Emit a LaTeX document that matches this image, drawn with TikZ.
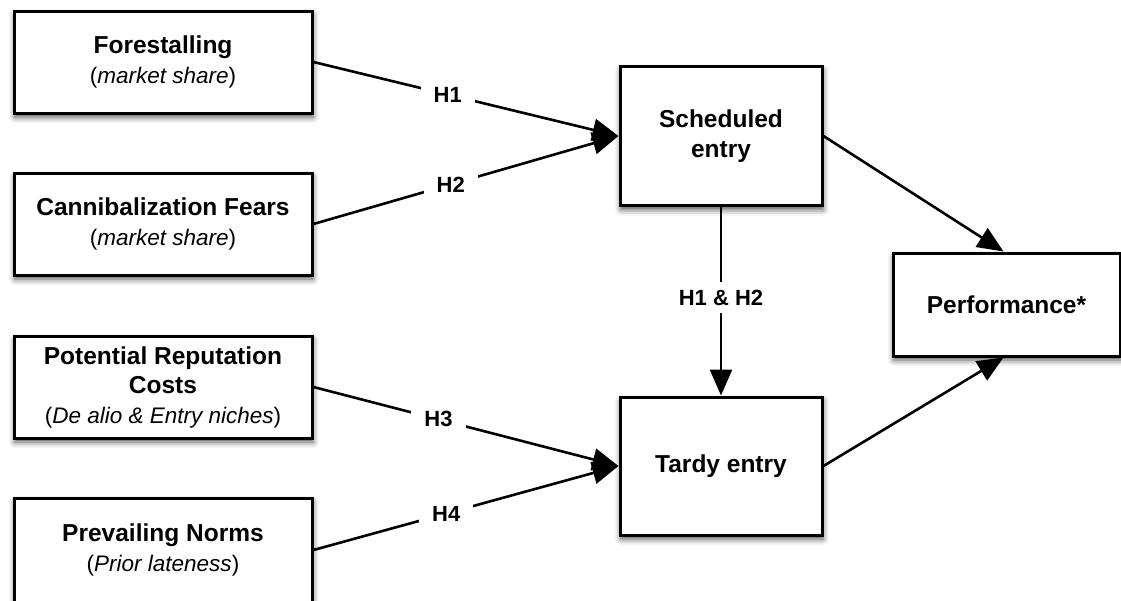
\documentclass[tikz,border=0pt]{standalone}
\usepackage{fontspec}
\setmainfont{Liberation Sans}
\usetikzlibrary{arrows.meta,shadows.blur}
\newcommand\myboxfont{\fontsize{24.5}{29.5}\selectfont\bfseries}
\newcommand\mysubfont{\fontsize{22.5}{29.5}\selectfont\mdseries}
\newcommand\mylabfont{\fontsize{22}{26}\selectfont\bfseries}
\begin{document}
\begin{tikzpicture}[x=1pt,y=-1pt,
  box/.style={draw, line width=3pt, fill=white, align=center, font=\myboxfont,
    blur shadow={shadow xshift=1pt, shadow yshift=-4pt, shadow blur radius=6pt, shadow opacity=70}},
  lbl/.style={fill=white, font=\mylabfont, inner xsep=13pt, inner ysep=6pt},
  arr/.style={line width=2.6pt, -{Triangle[length=26pt,width=22pt]}}
]
\useasboundingbox (0,0) rectangle (1121,600);
% left column
\node[box, minimum width=298pt, minimum height=102pt] (fore) at (163,62)
  {Forestalling\\{\mysubfont(\textit{market share})}};
\node[box, minimum width=298pt, minimum height=102pt] (cann) at (163,224)
  {Cannibalization Fears\\{\mysubfont(\textit{market share})}};
\node[box, minimum width=298pt, minimum height=102pt] (pote) at (163,387)
  {Potential Reputation\\Costs\\{\mysubfont(\textit{De alio \& Entry niches})}};
\node[box, minimum width=298pt, minimum height=104pt] (prev) at (163,550)
  {Prevailing Norms\\{\mysubfont(\textit{Prior lateness})}};
% middle column
\node[box, minimum width=202pt, minimum height=139pt] (sched) at (721,136)
  {Scheduled\\entry};
\node[box, minimum width=202pt, minimum height=138pt] (tardy) at (721,466)
  {Tardy entry};
% right
\node[box, minimum width=227pt, minimum height=103pt] (perf) at (1006.5,304.5)
  {Performance*};
% connectors
\draw[arr] (fore.east) -- node[lbl, pos=0.44] (h1) {H1} (sched.west);
\draw[arr] (cann.east) -- node[lbl, pos=0.45] (h2) {H2} (sched.west);
\draw[arr] (pote.east) -- node[lbl, pos=0.41] (h3) {H3} (tardy.west);
\draw[arr] (prev.east) -- node[lbl, pos=0.435] (h4) {H4} (tardy.west);
\draw[arr] (sched.south) -- node[lbl, pos=0.48, inner xsep=4pt, inner ysep=8pt] (h12) {H1 \& H2} (tardy.north);
\draw[arr] (sched.east) -- ([xshift=-3pt]perf.north);
\draw[arr] (tardy.east) -- ([xshift=-3pt]perf.south);
\end{tikzpicture}
\end{document}
